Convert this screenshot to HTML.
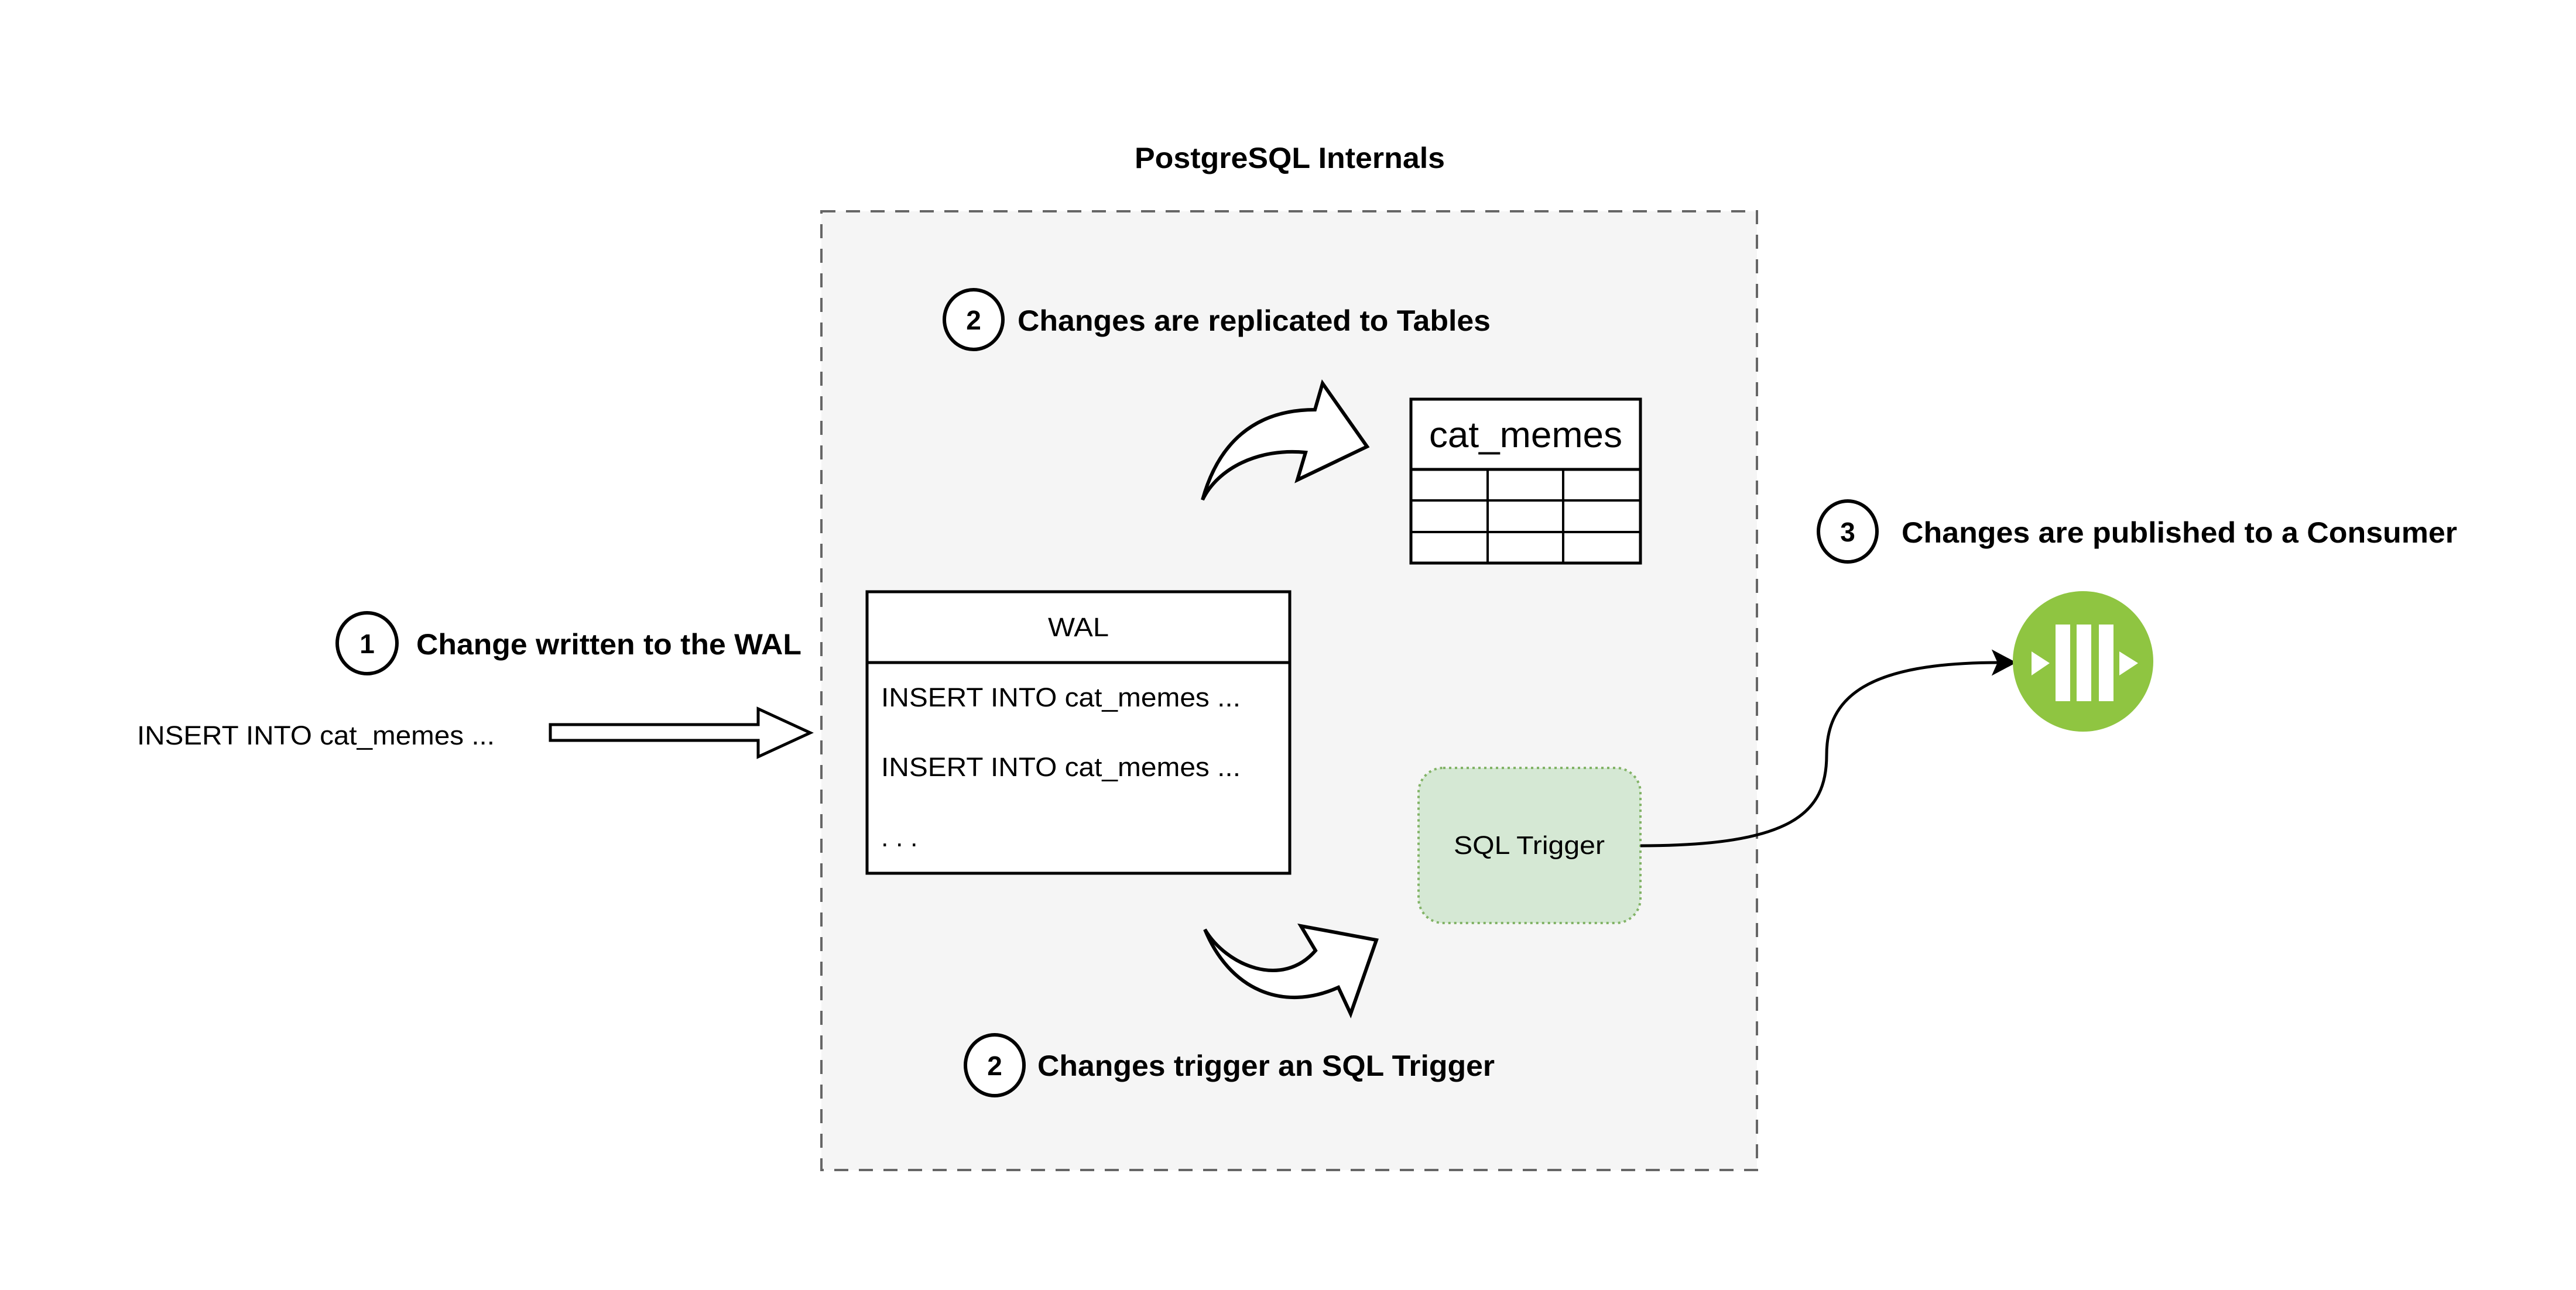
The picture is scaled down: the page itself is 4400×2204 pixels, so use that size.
<!DOCTYPE html>
<html><head><meta charset="utf-8"><style>html,body{margin:0;padding:0;background:#fff}svg{display:block}</style></head>
<body>
<svg width="4400" height="2204" viewBox="0 0 4400 2204" xmlns="http://www.w3.org/2000/svg" font-family="'Liberation Sans', Arial, sans-serif">
<rect width="4400" height="2204" fill="#fff"/>
<!-- container -->
<rect x="1403" y="361" width="1598" height="1638" fill="#f5f5f5" stroke="#666" stroke-width="4" stroke-dasharray="24 18"/>
<text x="2203" y="287" font-size="50" font-weight="bold" text-anchor="middle" textLength="530" lengthAdjust="spacingAndGlyphs">PostgreSQL Internals</text>

<!-- step 2 top -->
<ellipse cx="1663" cy="546" rx="50" ry="51" fill="#fff" stroke="#000" stroke-width="6"/>
<text x="1663" y="563" font-size="46" font-weight="bold" text-anchor="middle">2</text>
<text x="1738" y="565" font-size="50" font-weight="bold" textLength="808" lengthAdjust="spacingAndGlyphs">Changes are replicated to Tables</text>

<!-- top curved arrow -->
<path d="M2054,854 C2080,760 2140,700 2246,700 L2259,655 L2335,763 L2216,820 L2230,773 C2150,765 2080,800 2054,854 Z" fill="#fff" stroke="#000" stroke-width="6" stroke-linejoin="miter"/>

<!-- table -->
<rect x="2410" y="682" width="392" height="280" fill="#fff" stroke="#000" stroke-width="5"/>
<line x1="2410" y1="802" x2="2802" y2="802" stroke="#000" stroke-width="5"/>
<line x1="2410" y1="855" x2="2802" y2="855" stroke="#000" stroke-width="4"/>
<line x1="2410" y1="909" x2="2802" y2="909" stroke="#000" stroke-width="4"/>
<line x1="2541" y1="802" x2="2541" y2="962" stroke="#000" stroke-width="4"/>
<line x1="2670" y1="802" x2="2670" y2="962" stroke="#000" stroke-width="4"/>
<text x="2606" y="764" font-size="62" text-anchor="middle" textLength="330" lengthAdjust="spacingAndGlyphs">cat_memes</text>

<!-- WAL -->
<rect x="1481" y="1011" width="722" height="481" fill="#fff" stroke="#000" stroke-width="5"/>
<line x1="1481" y1="1132" x2="2203" y2="1132" stroke="#000" stroke-width="5"/>
<text x="1842" y="1087" font-size="45" text-anchor="middle" textLength="104" lengthAdjust="spacingAndGlyphs">WAL</text>
<text x="1505" y="1207" font-size="45" textLength="614" lengthAdjust="spacingAndGlyphs">INSERT INTO cat_memes ...</text>
<text x="1505" y="1326" font-size="45" textLength="614" lengthAdjust="spacingAndGlyphs">INSERT INTO cat_memes ...</text>
<text x="1505" y="1446" font-size="45">. . .</text>

<!-- SQL Trigger -->
<rect x="2423" y="1312" width="379" height="265" rx="42" ry="42" fill="#d5e8d4" stroke="#82b366" stroke-width="4" stroke-dasharray="4 6"/>
<text x="2612" y="1459" font-size="44" text-anchor="middle" textLength="258" lengthAdjust="spacingAndGlyphs">SQL Trigger</text>

<!-- bottom curved arrow -->
<path d="M2058,1588 C2095,1650 2190,1690 2247,1624 L2222,1582 L2351,1606 L2307,1732 L2286,1687 C2190,1730 2100,1690 2058,1588 Z" fill="#fff" stroke="#000" stroke-width="6" stroke-linejoin="miter"/>

<!-- step 2 bottom -->
<ellipse cx="1699" cy="1820" rx="50" ry="52" fill="#fff" stroke="#000" stroke-width="6"/>
<text x="1699" y="1837" font-size="46" font-weight="bold" text-anchor="middle">2</text>
<text x="1772" y="1838" font-size="50" font-weight="bold" textLength="781" lengthAdjust="spacingAndGlyphs">Changes trigger an SQL Trigger</text>

<!-- step 1 -->
<ellipse cx="627" cy="1099" rx="51" ry="52" fill="#fff" stroke="#000" stroke-width="6"/>
<text x="627" y="1116" font-size="46" font-weight="bold" text-anchor="middle">1</text>
<text x="711" y="1118" font-size="50" font-weight="bold" textLength="658" lengthAdjust="spacingAndGlyphs">Change written to the WAL</text>

<!-- input -->
<text x="234" y="1272" font-size="45" textLength="611" lengthAdjust="spacingAndGlyphs">INSERT INTO cat_memes ...</text>
<path d="M940,1238 L1295,1238 L1295,1211 L1384,1252 L1295,1293 L1295,1265 L940,1265 Z" fill="#fff" stroke="#000" stroke-width="5"/>

<!-- connector -->
<path d="M2802,1445 C3060,1445 3120,1390 3120,1290 C3120,1190 3190,1132 3415,1132" fill="none" stroke="#000" stroke-width="5"/>
<path d="M3440,1132 L3406,1114 L3414,1132 L3406,1150 Z" fill="#000" stroke="#000" stroke-width="4"/>

<!-- step 3 -->
<ellipse cx="3156" cy="908" rx="50" ry="52" fill="#fff" stroke="#000" stroke-width="6"/>
<text x="3156" y="925" font-size="46" font-weight="bold" text-anchor="middle">3</text>
<text x="3248" y="927" font-size="50" font-weight="bold" textLength="949" lengthAdjust="spacingAndGlyphs">Changes are published to a Consumer</text>

<!-- queue icon -->
<circle cx="3558" cy="1130" r="120" fill="#8fc541"/>
<rect x="3511" y="1067" width="25" height="131" fill="#fff"/>
<rect x="3547" y="1067" width="25" height="131" fill="#fff"/>
<rect x="3585" y="1067" width="25" height="131" fill="#fff"/>
<path d="M3470,1113 L3501,1133 L3470,1154 Z" fill="#fff"/>
<path d="M3620,1113 L3652,1133 L3620,1154 Z" fill="#fff"/>
</svg>
</body></html>
